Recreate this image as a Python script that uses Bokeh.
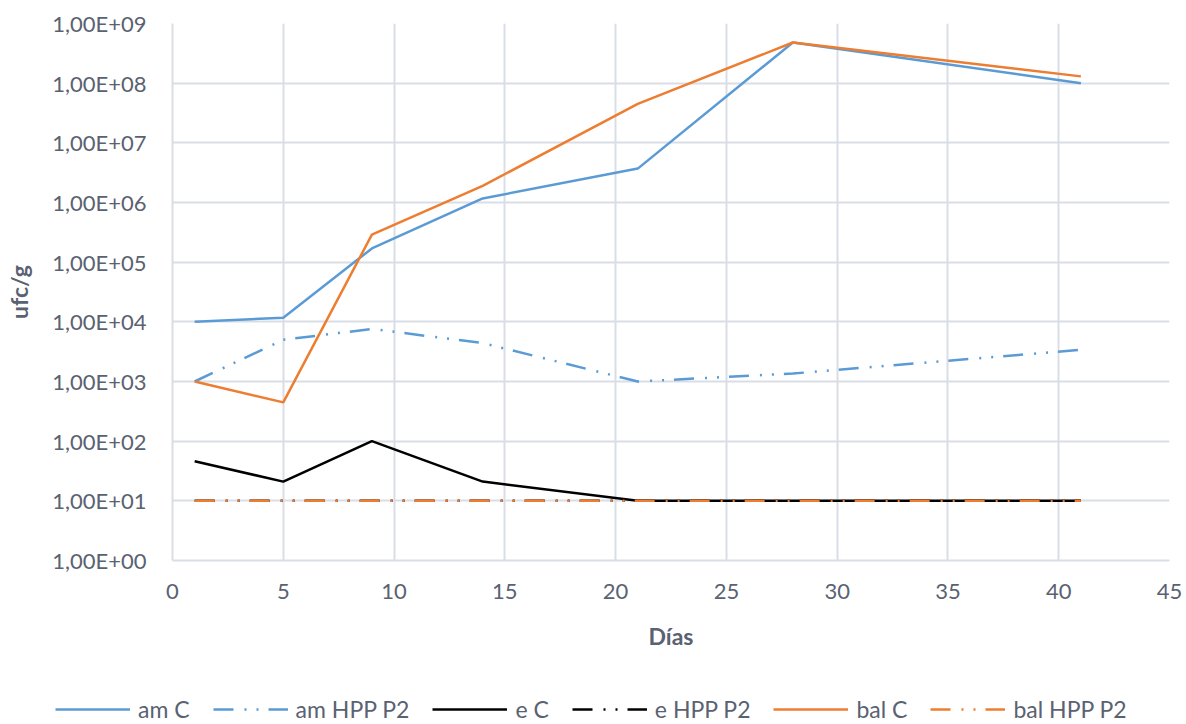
from bokeh.plotting import figure
from bokeh.models import FixedTicker, CustomJSTickFormatter, Legend, LegendItem, Range1d
from bokeh.layouts import column
from bokeh.embed import file_html
from bokeh.resources import INLINE

dias = [1, 5, 9, 14, 21, 28, 41]
am_c = [1.0e4, 1.17e4, 1.7e5, 1.17e6, 3.7e6, 4.8e8, 1.0e8]
am_hpp = [1.0e3, 5.0e3, 7.6e3, 4.4e3, 1.0e3, 1.36e3, 3.4e3]
e_c = [46, 21, 100, 21, 10, 10, 10]
e_hpp = [10, 10, 10, 10, 10, 10, 10]
bal_c = [1.0e3, 447, 2.9e5, 1.9e6, 4.5e7, 4.8e8, 1.3e8]
bal_hpp = [10, 10, 10, 10, 10, 10, 10]

series_names = ["am C", "am HPP P2", "e C", "e HPP P2", "bal C", "bal HPP P2"]
series_vals = [am_c, am_hpp, e_c, e_hpp, bal_c, bal_hpp]
x_ticks = [0, 5, 10, 15, 20, 25, 30, 35, 40, 45]
y_ticks = [1, 10, 100, 1e3, 1e4, 1e5, 1e6, 1e7, 1e8, 1e9]

BLUE = "#5b9bd5"
ORANGE = "#ed7d31"
BLACK = "#000000"
DDOT = "20 11 2 10 2 10"
styles = [(BLUE, "solid"), (BLUE, DDOT), (BLACK, "solid"), (BLACK, DDOT), (ORANGE, "solid"), (ORANGE, DDOT)]

FONT = "Lato"
TXT = "#5a6272"
GRID = "#d9dee6"

p = figure(width=1186, height=680, y_axis_type="log", output_backend="svg",
           toolbar_location=None, x_range=Range1d(0, 45), y_range=Range1d(1, 1e9),
           min_border_left=172, min_border_right=17, min_border_top=23, min_border_bottom=120)
p.outline_line_color = None
p.frame_align = False

for name, vals, (col, dash) in zip(series_names, series_vals, styles):
    p.line(dias, vals, line_color=col, line_width=2.5, line_dash=dash)

p.xaxis.ticker = FixedTicker(ticks=x_ticks)
p.yaxis.ticker = FixedTicker(ticks=y_ticks)
p.yaxis.formatter = CustomJSTickFormatter(code="""
const e = Math.round(Math.log10(tick));
return "1,00E+" + (e < 10 ? "0" : "") + e;
""")

for ax in (p.xaxis, p.yaxis):
    ax.axis_line_color = GRID
    ax.axis_line_width = 2
    ax.major_tick_line_color = None
    ax.minor_tick_line_color = None
    ax.major_tick_out = 0
    ax.major_tick_in = 0
    ax.major_label_text_font = FONT
    ax.major_label_text_font_size = "22px"
    ax.major_label_text_color = TXT
    ax.axis_label_text_font = FONT
    ax.axis_label_text_font_size = "23px"
    ax.axis_label_text_font_style = "bold"
    ax.axis_label_text_color = TXT

p.xaxis.axis_label = "Días"
p.yaxis.axis_label = "ufc/g"
p.xaxis.major_label_standoff = 23
p.xaxis.axis_label_standoff = 20
p.yaxis.major_label_standoff = 26
p.yaxis.axis_label_standoff = 16

p.xgrid.ticker = FixedTicker(ticks=x_ticks)
p.ygrid.ticker = FixedTicker(ticks=y_ticks)
for g in (p.xgrid, p.ygrid):
    g.grid_line_color = GRID
    g.grid_line_width = 2
p.ygrid.minor_grid_line_color = None

# legend strip below the chart
p2 = figure(width=1186, height=44, output_backend="svg", toolbar_location=None,
            x_range=Range1d(0, 1), y_range=Range1d(0, 1),
            x_axis_location=None, y_axis_location=None,
            min_border_left=0, min_border_right=0, min_border_top=0, min_border_bottom=0)
p2.outline_line_color = None
p2.frame_align = False
p2.xgrid.visible = False
p2.ygrid.visible = False
items = []
nan = float("nan")
for name, (col, dash) in zip(series_names, styles):
    r = p2.line(x=[nan], y=[nan], line_color=col, line_width=2.5, line_dash=dash)
    items.append(LegendItem(label=name, renderers=[r]))

legend = Legend(items=items, orientation="horizontal", location=(55, 1), margin=0,
                glyph_width=75, glyph_height=20, label_height=20, label_standoff=8, spacing=23, padding=0,
                label_text_font=FONT, label_text_font_size="23px", label_text_color=TXT,
                border_line_color=None, background_fill_alpha=0)
p2.add_layout(legend, "center")

open("out.html", "w").write(file_html(column(p, p2, spacing=0), INLINE))
